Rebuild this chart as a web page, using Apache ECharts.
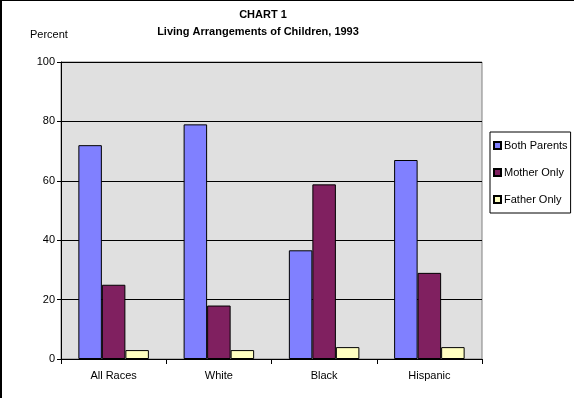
<!DOCTYPE html>
<html>
<head>
<meta charset="utf-8">
<script src="https://cdn.jsdelivr.net/npm/echarts@6/dist/echarts.min.js"></script>
<style>
    html, body { margin: 0; padding: 0; background: #fff; }
    #frame {
        position: relative;
        width: 574px;
        height: 398px;
        box-sizing: border-box;
        border-top: 1px solid #000;
        border-left: 2px solid #000;
    }
    #chart {
        position: absolute;
        left: -2px;
        top: -1px;
        width: 574px;
        height: 398px;
    }
</style>
</head>
<body>
<div id="frame"><div id="chart"></div></div>
<script>
    // data
    var categories = ['All Races', 'White', 'Black', 'Hispanic'];
    var bothParents = [72, 79, 36.6, 67];
    var motherOnly = [25, 18, 58.8, 29];
    var fatherOnly = [3, 3, 4, 4];
    var yTicks = [0, 20, 40, 60, 80, 100];

    var font = 'Arial, "Liberation Sans", sans-serif';

    var chart = echarts.init(document.getElementById('chart'));
    var barStyle = function (color) {
        return { color: color, borderColor: '#000', borderWidth: 1 };
    };
    var option = {
        animation: false,
        textStyle: { fontFamily: font, color: '#000' },
        title: [{
            text: 'CHART 1',
            left: 258,
            top: 4,
            textAlign: 'center',
            textStyle: { fontSize: 11, fontWeight: 'bold', color: '#000', fontFamily: font }
        }, {
            text: 'Living Arrangements of Children, 1993',
            left: 253,
            top: 21,
            textAlign: 'center',
            textStyle: { fontSize: 11, fontWeight: 'bold', color: '#000', fontFamily: font }
        }, {
            text: 'Percent',
            left: 25,
            top: 24,
            textStyle: { fontSize: 11, fontWeight: 'normal', color: '#000', fontFamily: font }
        }],
        legend: {
            orient: 'vertical',
            left: 490,
            top: 132,
            itemWidth: 7,
            itemHeight: 7,
            itemGap: 16,
            padding: [8, 3, 8, 3],
            borderColor: '#000',
            borderWidth: 1,
            icon: 'rect',
            textStyle: { fontSize: 11, color: '#000', fontFamily: font, padding: [0, 0, 0, -2] },
            data: ['Both Parents', 'Mother Only', 'Father Only']
        },
        grid: {
            left: 61,
            right: 92,
            top: 62,
            bottom: 39,
            show: true,
            backgroundColor: '#e0e0e0',
            borderColor: '#808080',
            borderWidth: 1
        },
        xAxis: {
            type: 'category',
            data: categories,
            axisLine: { lineStyle: { color: '#000', width: 1 } },
            axisTick: { show: true, length: 5, lineStyle: { color: '#000' } },
            axisLabel: { fontSize: 11, color: '#000', margin: 11, fontFamily: font }
        },
        yAxis: {
            type: 'value',
            min: yTicks[0],
            max: yTicks[yTicks.length - 1],
            interval: 20,
            axisLine: { show: true, lineStyle: { color: '#000', width: 1 } },
            axisTick: { show: true, length: 4, lineStyle: { color: '#000' } },
            axisLabel: { fontSize: 11, color: '#000', margin: 6, fontFamily: font },
            splitLine: { lineStyle: { color: '#000', width: 1 } }
        },
        series: [{
            name: 'Both Parents',
            type: 'bar',
            data: bothParents,
            barGap: '0%',
            barCategoryGap: '33%',
            itemStyle: barStyle('#8080ff')
        }, {
            name: 'Mother Only',
            type: 'bar',
            data: motherOnly,
            itemStyle: barStyle('#802060')
        }, {
            name: 'Father Only',
            type: 'bar',
            data: fatherOnly,
            itemStyle: barStyle('#ffffc0')
        }]
    };
    chart.setOption(option);
</script>
</body>
</html>
